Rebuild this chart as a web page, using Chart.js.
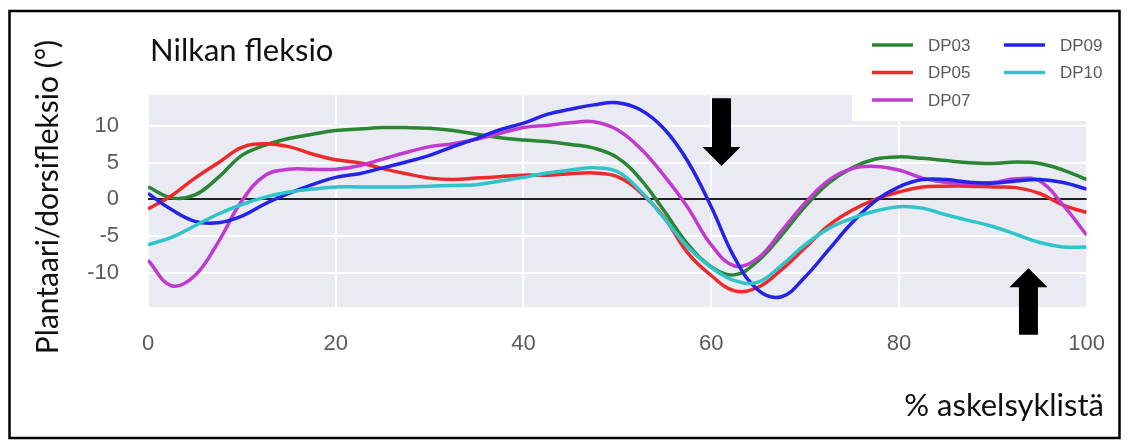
<!DOCTYPE html>
<html>
<head>
<meta charset="utf-8">
<script src="https://cdn.jsdelivr.net/npm/chart.js@4.4.0/dist/chart.umd.min.js"></script>
<style>
  body { margin: 0; background: #fff; }
  #wrap { position: relative; width: 1129px; height: 441px; }
</style>
</head>
<body>
<div id="wrap"><canvas id="grafico" width="1129" height="441"></canvas></div>
<script>
// % askelsyklistä
const pct = [0, 2.5, 5, 7.5, 10, 12.5, 15, 17.5, 20, 22.5, 25, 27.5, 30, 32.5, 35, 37.5, 40, 42.5, 45, 47.5,
             50, 52.5, 55, 57.5, 60, 62.5, 65, 67.5, 70, 72.5, 75, 77.5, 80, 82.5, 85, 87.5, 90, 92.5, 95, 97.5, 100];

const dp03 = [1.7, 0.2, 0.6, 3.0, 6.0, 7.4, 8.3, 8.9, 9.4, 9.6, 9.8, 9.8, 9.7, 9.4, 8.9, 8.4, 8.1, 7.9, 7.5, 7.0,
              5.7, 2.7, -1.6, -6.1, -9.2, -10.3, -8.4, -4.9, -1.0, 2.2, 4.3, 5.5, 5.8, 5.6, 5.3, 5.0, 4.9, 5.1, 4.9, 4.0, 2.7];
const dp05 = [-1.3, 0.5, 2.9, 5.0, 7.1, 7.6, 7.2, 6.2, 5.4, 5.0, 4.2, 3.5, 2.9, 2.7, 2.9, 3.1, 3.3, 3.3, 3.5, 3.6,
              3.1, 0.9, -2.5, -7.3, -10.4, -12.5, -12.0, -9.6, -6.6, -3.6, -1.5, 0.0, 1.0, 1.7, 1.8, 1.8, 1.7, 1.6, 0.8, -0.8, -1.8];
const dp07 = [-8.3, -11.8, -10.4, -5.8, -0.2, 3.3, 4.1, 4.1, 4.1, 4.6, 5.5, 6.4, 7.2, 7.6, 8.2, 9.0, 9.8, 10.1, 10.45, 10.6,
              9.5, 6.9, 3.2, -1.1, -6.2, -9.1, -8.0, -4.3, -0.5, 2.6, 4.2, 4.5, 4.0, 2.9, 2.3, 2.2, 2.3, 2.8, 2.5, -0.8, -4.9];
const dp09 = [0.8, -1.4, -3.0, -3.2, -2.3, -0.6, 0.8, 2.0, 3.0, 3.5, 4.3, 5.1, 6.0, 7.2, 8.3, 9.5, 10.4, 11.6, 12.3, 12.9,
              13.2, 12.2, 9.6, 5.2, -1.0, -8.0, -12.4, -13.3, -10.6, -6.9, -3.2, -0.2, 1.7, 2.7, 2.7, 2.35, 2.2, 2.5, 2.7, 2.3, 1.4];
const dp10 = [-6.2, -5.2, -3.6, -2.0, -0.7, 0.3, 1.0, 1.4, 1.7, 1.7, 1.7, 1.7, 1.8, 1.9, 2.0, 2.5, 3.0, 3.6, 4.0, 4.3,
              3.8, 1.1, -2.6, -6.5, -9.3, -11.1, -11.3, -9.0, -6.2, -4.0, -2.6, -1.6, -1.0, -1.2, -2.1, -2.9, -3.7, -4.8, -5.9, -6.5, -6.5];

const sarjat = ['DP03', 'DP05', 'DP07', 'DP09', 'DP10'];
const arvot = [dp03, dp05, dp07, dp09, dp10];
const xTicks = [0, 20, 40, 60, 80, 100];
const yTicks = [-10, -5, 0, 5, 10];

const varit = { DP03: '#2a8632', DP05: '#ec2a2c', DP07: '#c03acf', DP09: '#2424e6', DP10: '#2ec4c9' };

// tausta + kehys, selite, nuolet ja tekstit
const piirto = {
  id: 'piirto',
  beforeDraw(chart) {
    const { ctx, chartArea: a } = chart;
    ctx.save();
    ctx.fillStyle = '#fff';
    ctx.fillRect(0, 0, chart.width, chart.height);
    ctx.fillStyle = '#eaeaf2';
    ctx.fillRect(a.left, a.top, a.right - a.left, a.bottom - a.top);
    ctx.restore();
  },
  afterDraw(chart) {
    const { ctx } = chart;
    const xs = chart.scales.x, ys = chart.scales.y;
    ctx.save();

    // selite
    ctx.fillStyle = '#fff';
    ctx.fillRect(852, 20, 262, 101);
    ctx.font = '17px "Liberation Sans", Arial, sans-serif';
    ctx.textBaseline = 'middle';
    ctx.textAlign = 'left';
    chart.data.datasets.forEach((ds, i) => {
      const col = Math.floor(i / 3), row = i % 3;
      const x0 = col === 0 ? 872 : 1004;
      const y0 = 45 + row * 27.5;
      ctx.strokeStyle = ds.borderColor;
      ctx.lineWidth = 3.5;
      ctx.beginPath();
      ctx.moveTo(x0, y0);
      ctx.lineTo(x0 + 41, y0);
      ctx.stroke();
      ctx.fillStyle = '#5a5a5a';
      ctx.fillText(ds.label, x0 + 56, y0 + 1);
    });

    // nuolet
    const nuoli = (xv, yAlku, yKarki) => {
      const x = xs.getPixelForValue(xv);
      const y0 = ys.getPixelForValue(yAlku);
      const y1 = ys.getPixelForValue(yKarki);
      const s = y1 > y0 ? 1 : -1;
      const yk = y1 - s * 19;
      ctx.fillStyle = '#000';
      ctx.beginPath();
      ctx.moveTo(x - 9.5, y0);
      ctx.lineTo(x + 9.5, y0);
      ctx.lineTo(x + 9.5, yk);
      ctx.lineTo(x + 19, yk);
      ctx.lineTo(x, y1);
      ctx.lineTo(x - 19, yk);
      ctx.lineTo(x - 9.5, yk);
      ctx.closePath();
      ctx.fill();
    };
    nuoli(61.1, 13.8, 4.55);
    nuoli(93.8, -18.5, -9.4);

    // otsikot
    ctx.fillStyle = '#111';
    ctx.textBaseline = 'alphabetic';
    ctx.font = '31px Lato, "Open Sans", sans-serif';
    ctx.textAlign = 'left';
    ctx.fillText('Nilkan fleksio', 150, 61);

    ctx.font = '31px Lato, "Open Sans", sans-serif';
    ctx.textAlign = 'right';
    ctx.fillText('% askelsyklistä', 1104, 416);

    ctx.translate(58, 197);
    ctx.rotate(-Math.PI / 2);
    ctx.textAlign = 'center';
    ctx.font = '30px Lato, "Open Sans", sans-serif';
    ctx.fillText('Plantaari/dorsifleksio (°)', 0, 0);
    ctx.setTransform(1, 0, 0, 1, 0, 0);

    // kehys
    ctx.strokeStyle = '#000';
    ctx.lineWidth = 2.5;
    ctx.strokeRect(9.5, 11, 1110, 427);
    ctx.restore();
  }
};

new Chart(document.getElementById('grafico'), {
  type: 'line',
  data: {
    datasets: sarjat.map((nimi, i) => ({
      label: nimi,
      data: pct.map((p, j) => ({ x: p, y: arvot[i][j] })),
      borderColor: varit[nimi],
      borderWidth: 3.5,
      pointRadius: 0,
      fill: false,
      tension: 0.4,
      order: sarjat.length - i
    }))
  },
  options: {
    responsive: false,
    animation: false,
    devicePixelRatio: 1,
    layout: { padding: { left: 0, right: 39, top: 95, bottom: 0 } },
    plugins: { legend: { display: false }, tooltip: { enabled: false } },
    scales: {
      x: {
        type: 'linear', min: 0, max: 100,
        afterBuildTicks: s => { s.ticks = xTicks.map(v => ({ value: v })); },
        afterFit: s => { s.height = 134; },
        grid: { color: '#fff', lineWidth: 2, drawTicks: false },
        border: { display: false },
        ticks: { color: '#5a5a5a', padding: 24, maxRotation: 0, font: { family: '"Liberation Sans", Arial, sans-serif', size: 22 } }
      },
      y: {
        min: -14.7, max: 14.25,
        afterBuildTicks: s => { s.ticks = yTicks.map(v => ({ value: v })); },
        afterFit: s => { s.width = 148; },
        grid: {
          color: c => (c.tick && c.tick.value === 0 ? '#222' : '#fff'),
          lineWidth: 2, drawTicks: false
        },
        border: { display: false },
        ticks: { color: '#5a5a5a', padding: 29, font: { family: '"Liberation Sans", Arial, sans-serif', size: 22 } }
      }
    }
  },
  plugins: [piirto]
});
</script>
</body>
</html>
